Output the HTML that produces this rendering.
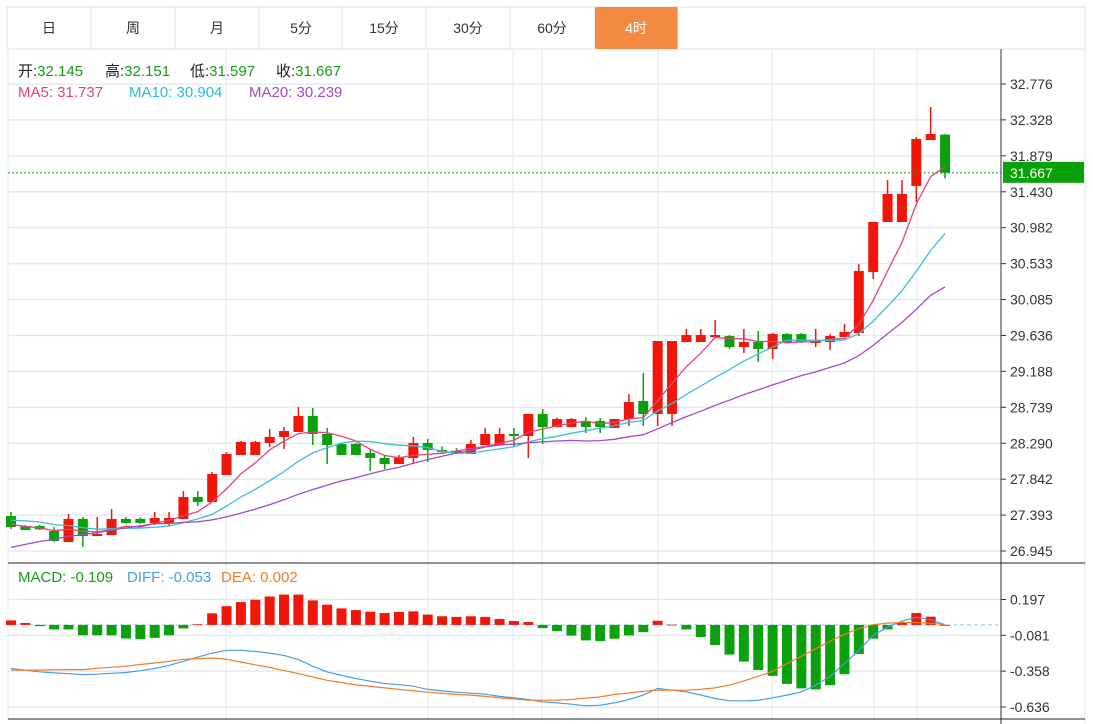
<!DOCTYPE html>
<html><head><meta charset="utf-8"><style>
body{margin:0;background:#fff;width:1093px;height:724px;overflow:hidden;font-family:"Liberation Sans","Noto Sans CJK SC",sans-serif;}
svg{position:absolute;left:0;top:0}
text{font-family:"Liberation Sans","Noto Sans CJK SC",sans-serif;}
</style></head><body>
<svg id="chart" width="1093" height="724" viewBox="0 0 1093 724" xmlns="http://www.w3.org/2000/svg">
<g id="tabs">
<rect x="7" y="7" width="1078" height="42" fill="#fff" stroke="#e0e3e6"/>
<g><text x="49" y="33" font-size="14" text-anchor="middle" fill="#333">日</text></g>
<line x1="91" y1="7" x2="91" y2="49" stroke="#e0e3e6"/>
<g><text x="133" y="33" font-size="14" text-anchor="middle" fill="#333">周</text></g>
<line x1="175" y1="7" x2="175" y2="49" stroke="#e0e3e6"/>
<g><text x="217" y="33" font-size="14" text-anchor="middle" fill="#333">月</text></g>
<line x1="259" y1="7" x2="259" y2="49" stroke="#e0e3e6"/>
<g><text x="301" y="33" font-size="14" text-anchor="middle" fill="#333">5分</text></g>
<line x1="342" y1="7" x2="342" y2="49" stroke="#e0e3e6"/>
<g><text x="384" y="33" font-size="14" text-anchor="middle" fill="#333">15分</text></g>
<line x1="426" y1="7" x2="426" y2="49" stroke="#e0e3e6"/>
<g><text x="468" y="33" font-size="14" text-anchor="middle" fill="#333">30分</text></g>
<line x1="510" y1="7" x2="510" y2="49" stroke="#e0e3e6"/>
<g><text x="552" y="33" font-size="14" text-anchor="middle" fill="#333">60分</text></g>
<line x1="595" y1="7" x2="595" y2="49" stroke="#e0e3e6"/>
<g><rect x="595" y="7" width="83" height="42" rx="2" fill="#f28a42"/><text x="636" y="33" font-size="14" text-anchor="middle" fill="#fff">4时</text></g>
<line x1="678" y1="7" x2="678" y2="49" stroke="#e0e3e6"/>
</g>
<g id="grid"></g>
<g id="plot"></g>
<g id="axes"></g>
<g font-size="15">
<text x="18" y="76"><tspan fill="#222">开:</tspan><tspan fill="#169c16">32.145</tspan></text>
<text x="105" y="76"><tspan fill="#222">高:</tspan><tspan fill="#169c16">32.151</tspan></text>
<text x="190" y="76"><tspan fill="#222">低:</tspan><tspan fill="#169c16">31.597</tspan></text>
<text x="276" y="76"><tspan fill="#222">收:</tspan><tspan fill="#169c16">31.667</tspan></text>
<text x="18" y="97" fill="#e0457b">MA5: 31.737</text>
<text x="129" y="97" fill="#2bbcd0">MA10: 30.904</text>
<text x="249" y="97" fill="#a04cc0">MA20: 30.239</text>
</g>
<g font-size="15">
<text x="18" y="582" fill="#169c16">MACD: -0.109</text>
<text x="127" y="582" fill="#4a9de0">DIFF: -0.053</text>
<text x="221" y="582" fill="#f07c2a">DEA: 0.002</text>
</g>
</svg>
<script>
const opens=[27.382,27.257,27.257,27.195,27.057,27.345,27.132,27.145,27.345,27.345,27.295,27.295,27.345,27.619,27.557,27.894,28.144,28.144,28.294,28.369,28.431,28.631,28.406,28.281,28.281,28.169,28.106,28.031,28.106,28.294,28.206,28.194,28.156,28.269,28.269,28.406,28.381,28.656,28.493,28.493,28.568,28.568,28.481,28.593,28.818,28.656,28.656,29.554,29.554,29.617,29.629,29.492,29.554,29.467,29.654,29.654,29.542,29.554,29.617,29.667,30.429,31.053,31.053,31.503,32.077,32.145];
const highs=[27.432,27.270,27.270,27.245,27.407,27.369,27.369,27.469,27.370,27.365,27.432,27.432,27.694,27.694,27.931,28.181,28.320,28.320,28.468,28.493,28.743,28.730,28.481,28.300,28.295,28.206,28.144,28.144,28.369,28.344,28.250,28.230,28.331,28.481,28.481,28.481,28.656,28.718,28.610,28.605,28.618,28.606,28.593,28.905,29.168,29.567,29.567,29.717,29.717,29.829,29.642,29.717,29.692,29.667,29.667,29.667,29.717,29.654,29.779,30.529,31.053,31.577,31.577,32.114,32.489,32.151];
const lows=[27.220,27.207,27.207,27.057,27.057,26.995,27.132,27.145,27.285,27.285,27.270,27.257,27.345,27.507,27.557,27.894,28.144,28.144,28.244,28.219,28.431,28.269,28.031,28.144,28.144,27.944,27.969,28.031,28.044,28.056,28.156,28.156,28.156,28.269,28.269,28.244,28.106,28.281,28.493,28.493,28.418,28.418,28.481,28.506,28.506,28.506,28.506,29.554,29.554,29.617,29.467,29.417,29.305,29.342,29.542,29.542,29.492,29.455,29.617,29.629,30.341,31.053,31.053,31.303,32.077,31.597];
const closes=[27.245,27.207,27.215,27.070,27.345,27.132,27.157,27.345,27.295,27.295,27.357,27.357,27.619,27.557,27.906,28.156,28.306,28.306,28.369,28.443,28.631,28.406,28.269,28.144,28.144,28.106,28.031,28.119,28.294,28.206,28.181,28.169,28.281,28.406,28.406,28.381,28.656,28.493,28.593,28.593,28.493,28.493,28.593,28.805,28.656,29.567,29.567,29.642,29.642,29.642,29.492,29.554,29.467,29.654,29.554,29.554,29.567,29.629,29.680,30.441,31.053,31.403,31.403,32.089,32.152,31.667];
const priorCloses=[26.45,26.5,26.55,26.6,26.65,26.7,26.7,26.75,26.8,26.8,27.3,27.35,27.4,27.45,27.4,27.35,27.3,27.25,27.255];
const priceTicks=["32.776","32.328","31.879","31.430","30.982","30.533","30.085","29.636","29.188","28.739","28.290","27.842","27.393","26.945"];
const macdHist=[0.035,0.015,-0.01,-0.035,-0.035,-0.08,-0.08,-0.08,-0.105,-0.11,-0.10,-0.08,-0.027,0.005,0.09,0.145,0.177,0.195,0.22,0.235,0.235,0.19,0.157,0.128,0.115,0.102,0.092,0.1,0.105,0.08,0.067,0.062,0.067,0.062,0.046,0.03,0.022,-0.025,-0.048,-0.083,-0.12,-0.125,-0.107,-0.081,-0.056,0.032,0.002,-0.035,-0.094,-0.156,-0.23,-0.284,-0.349,-0.395,-0.457,-0.492,-0.5,-0.467,-0.382,-0.225,-0.107,-0.035,0.015,0.092,0.064,0];
const diffLine=[-0.338,-0.351,-0.363,-0.372,-0.378,-0.385,-0.382,-0.375,-0.369,-0.355,-0.338,-0.313,-0.282,-0.249,-0.218,-0.197,-0.197,-0.205,-0.218,-0.236,-0.269,-0.320,-0.364,-0.390,-0.415,-0.436,-0.454,-0.463,-0.475,-0.500,-0.511,-0.521,-0.529,-0.537,-0.554,-0.565,-0.578,-0.596,-0.604,-0.614,-0.627,-0.622,-0.604,-0.578,-0.544,-0.493,-0.506,-0.519,-0.544,-0.570,-0.588,-0.588,-0.585,-0.565,-0.544,-0.519,-0.467,-0.398,-0.300,-0.197,-0.081,-0.017,0.029,0.060,0.040,0.002];
const deaLine=[-0.351,-0.351,-0.350,-0.348,-0.346,-0.346,-0.336,-0.328,-0.320,-0.307,-0.295,-0.282,-0.266,-0.261,-0.256,-0.266,-0.287,-0.309,-0.330,-0.354,-0.377,-0.403,-0.429,-0.446,-0.465,-0.476,-0.488,-0.500,-0.511,-0.521,-0.531,-0.538,-0.544,-0.554,-0.565,-0.573,-0.583,-0.583,-0.583,-0.578,-0.568,-0.558,-0.539,-0.527,-0.514,-0.506,-0.506,-0.506,-0.500,-0.488,-0.467,-0.434,-0.398,-0.359,-0.300,-0.243,-0.184,-0.125,-0.073,-0.029,0.002,0.014,0.019,0.019,0.014,0.002];
const macdTicks=["0.197","-0.081","-0.358","-0.636"];
const lastPrice=31.667;

const NS="http://www.w3.org/2000/svg";
const X0=11,DX=14.37,LEFT=8,RIGHT=1001;
function xOf(i){return X0+i*DX;}
const P_TOP=32.776,P_BOT=26.945,Y_TOP=84,Y_BOT=551;
function yP(v){return Y_TOP+(P_TOP-v)*(Y_BOT-Y_TOP)/(P_TOP-P_BOT);}
const M_TOP=0.197,M_BOT=-0.636,MY_TOP=599.5,MY_BOT=707;
function yM(v){return MY_TOP+(M_TOP-v)*(MY_BOT-MY_TOP)/(M_TOP-M_BOT);}
function mk(tag,attrs,parent){const e=document.createElementNS(NS,tag);for(const k in attrs)e.setAttribute(k,attrs[k]);parent.appendChild(e);return e;}
const grid=document.getElementById('grid'),plot=document.getElementById('plot'),axes=document.getElementById('axes');
const RED="#f0160a",GREEN="#0ca00c";

[8,226,428,513,542,658,772,874,917].forEach(x=>{
 const l=mk('line',{x1:x,y1:49,x2:x,y2:719,stroke:"#e3eaef","stroke-width":1},grid);
 
 
});
priceTicks.forEach(t=>{
 const y=yP(parseFloat(t));
 const l=mk('line',{x1:LEFT,y1:y,x2:RIGHT,y2:y,stroke:"#e3eaef","stroke-width":1.5},grid);
 
 
 mk('line',{x1:RIGHT,y1:y,x2:RIGHT+5,y2:y,stroke:"#333"},axes);
 const tx=mk('text',{x:1010,y:y+5,"font-size":14,fill:"#333"},axes);
 tx.textContent=t;
 
 
});
macdTicks.forEach(t=>{
 const y=yM(parseFloat(t));
 const l=mk('line',{x1:LEFT,y1:y,x2:RIGHT,y2:y,stroke:"#e3eaef","stroke-width":1.5},grid);
 
 
 mk('line',{x1:RIGHT,y1:y,x2:RIGHT+5,y2:y,stroke:"#333"},axes);
 const tx=mk('text',{x:1010,y:y+5,"font-size":14,fill:"#333"},axes);
 tx.textContent=t;
 
 
});
mk('line',{x1:RIGHT,y1:49,x2:RIGHT,y2:724,stroke:"#333"},axes);
mk('line',{x1:1085,y1:49,x2:1085,y2:724,stroke:"#e3eaef"},axes);
mk('line',{x1:LEFT,y1:563,x2:1085,y2:563,stroke:"#222"},axes);
mk('line',{x1:LEFT,y1:719,x2:1085,y2:719,stroke:"#222"},axes);

for(let i=0;i<closes.length;i++){
 const up=closes[i]>=opens[i],c=up?RED:GREEN,x=xOf(i);
 const g=mk('g',{},plot);
 
 
 mk('line',{x1:x,y1:yP(highs[i]),x2:x,y2:yP(lows[i]),stroke:c,"stroke-width":1.5},g);
 const top=yP(Math.max(opens[i],closes[i])),bot=yP(Math.min(opens[i],closes[i]));
 mk('rect',{x:x-5,y:top,width:10,height:Math.max(bot-top,1.5),fill:c},g);
}
const all=priorCloses.concat(closes);
function ma(n){const out=[];for(let i=0;i<closes.length;i++){const k=i+priorCloses.length;let s=0;for(let j=k-n+1;j<=k;j++)s+=all[j];out.push(s/n);}return out;}
[[5,"#e0457b","ma5-line"],[10,"#3cbfd3","ma10-line"],[20,"#a04cc0","ma20-line"]].forEach(([n,col,name])=>{
 const v=ma(n);
 const d=v.map((y,i)=>(i?'L':'M')+xOf(i).toFixed(1)+' '+yP(y).toFixed(1)).join(' ');
 const p=mk('path',{d:d,fill:"none",stroke:col,"stroke-width":1.3},plot);
 
 
});
const ly=yP(lastPrice);
const pl=mk('line',{x1:LEFT,y1:ly,x2:RIGHT,y2:ly,stroke:"#169c16","stroke-dasharray":"2,2"},plot);


const lb=mk('rect',{x:1003,y:ly-11,width:81,height:21,fill:"#0aa00a"},axes);


const lt=mk('text',{x:1010,y:ly+5,"font-size":14,fill:"#fff"},axes);
lt.textContent=lastPrice.toFixed(3);

const zy=yM(0);
const zl=mk('line',{x1:LEFT,y1:zy,x2:RIGHT,y2:zy,stroke:"#9cc8e6","stroke-dasharray":"4,3"},plot);


for(let i=0;i<macdHist.length;i++){
 const v=macdHist[i],y=yM(v),x=xOf(i);
 const r=mk('rect',{x:x-5,y:Math.min(y,zy),width:10,height:Math.max(Math.abs(y-zy),0.8),fill:v>=0?RED:GREEN},plot);
 
 
}
[[diffLine,"#4a9de0","diff-line"],[deaLine,"#f07c2a","dea-line"]].forEach(([arr,col,name])=>{
 const d=arr.map((v,i)=>(i?'L':'M')+xOf(i).toFixed(1)+' '+yM(v).toFixed(1)).join(' ');
 const p=mk('path',{d:d,fill:"none",stroke:col,"stroke-width":1.2},plot);
 
 
});
</script>
</body></html>
